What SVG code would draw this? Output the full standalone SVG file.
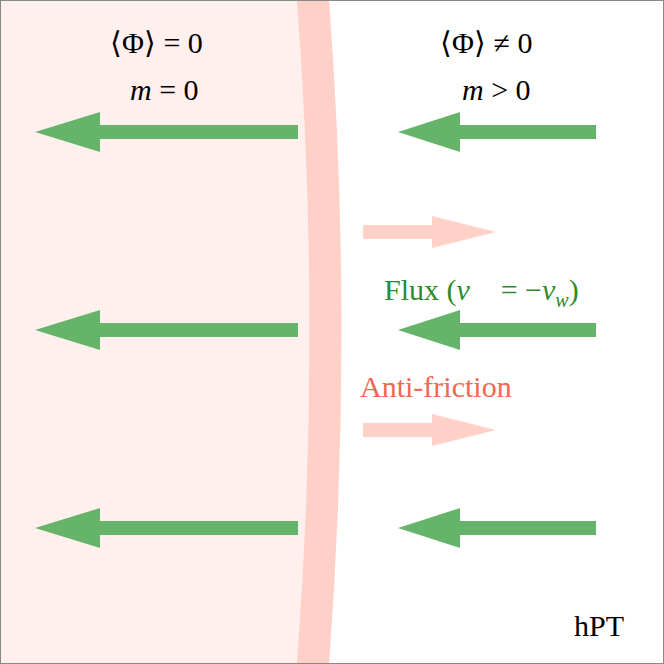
<svg xmlns="http://www.w3.org/2000/svg" width="664" height="664" viewBox="0 0 664 664">
<style>
.t{font-family:"Liberation Serif",serif;font-size:30px}
.i{font-style:italic}
.g{fill:#66b46a}
.p{fill:#ffd0c8}
</style>
<defs>
<path id="gl" d="M0,-7 L-200,-7 L-200,-20 L-265,0 L-200,20 L-200,7 L-200,-7 Z"/>
</defs>
<rect x="0" y="0" width="664" height="664" fill="#fff"/>
<path d="M0,0 L313,0 Q338,332 313,664 L0,664 Z" fill="#fff0ee"/>
<path id="wall" d="M313,0 Q338,332 313,664" fill="none" stroke="#ffd0c8" stroke-width="32"/>
<g id="connectors">
<path class="g" d="M298,125 L100,125 L100,112 L35,132 L100,152 L100,139 L298,139 Z"/>
<path class="g" d="M298,323 L100,323 L100,310 L35,330 L100,350 L100,337 L298,337 Z"/>
<path class="g" d="M298,521 L100,521 L100,508 L35,528 L100,548 L100,535 L298,535 Z"/>
<path class="g" d="M596,125 L460,125 L460,112 L398,132 L460,152 L460,139 L596,139 Z"/>
<path class="g" d="M596,323 L460,323 L460,310 L398,330 L460,350 L460,337 L596,337 Z"/>
<path class="g" d="M596,521 L460,521 L460,508 L398,528 L460,548 L460,535 L596,535 Z"/>
<path class="p" d="M363,225 L432,225 L432,216 L496,232 L432,248 L432,239 L363,239 Z"/>
<path class="p" d="M363,423 L432,423 L432,414 L496,430 L432,446 L432,437 L363,437 Z"/>
</g>
<text class="t" x="110" y="53">⟨Φ⟩ = 0</text>
<text class="t" x="130" y="100"><tspan class="i">m</tspan> = 0</text>
<text class="t" x="440" y="53">⟨Φ⟩ ≠ 0</text>
<text class="t" x="462" y="100"><tspan class="i">m</tspan> &gt; 0</text>
<text class="t" x="384" y="300" fill="#2e8b2e">Flux (<tspan class="i">v⃗</tspan> = −<tspan class="i">v</tspan><tspan class="i" font-size="20" dy="7">w</tspan><tspan dy="-7">)</tspan></text>
<text class="t" x="360" y="397" fill="#f06850">Anti-friction</text>
<text class="t" x="574" y="636">hPT</text>
<rect x="0.5" y="0.5" width="663" height="663" fill="none" stroke="#888" stroke-width="1"/>
</svg>
